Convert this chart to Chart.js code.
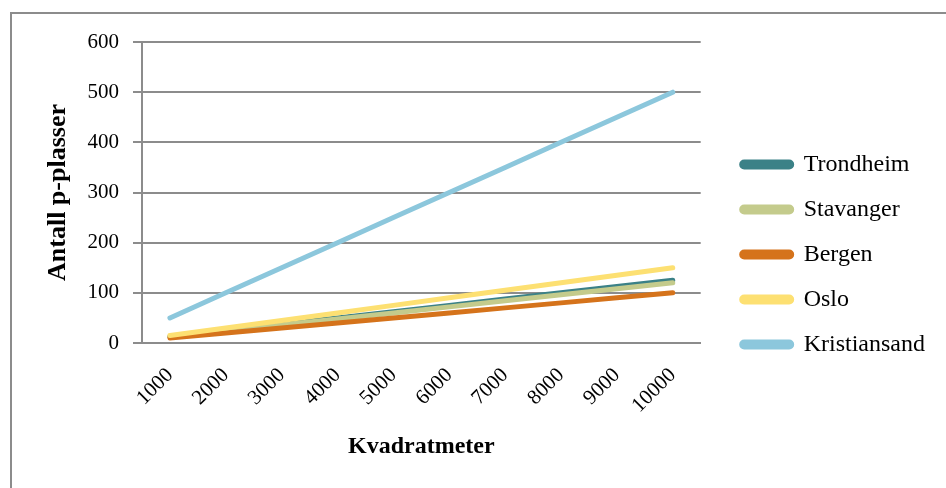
<!DOCTYPE html>
<html>
<head>
<meta charset="utf-8">
<script src="https://cdn.jsdelivr.net/npm/chart.js@4/dist/chart.umd.min.js"></script>
<style>
  html, body { margin: 0; padding: 0; background: #fff; }
  #wrap { position: relative; width: 946px; height: 488px; }
  #frame { position: absolute; left: 10px; top: 12px; width: 940px; height: 480px;
           border-left: 2px solid #8c8c8c; border-top: 2px solid #8c8c8c; }
  #chart { position: absolute; left: 0; top: 0; }
</style>
</head>
<body>
<div id="wrap">
  <div id="frame"></div>
  <canvas id="chart" width="946" height="488"></canvas>
</div>
<script>
// kvadratmeter
var areas = ['1000', '2000', '3000', '4000', '5000', '6000', '7000', '8000', '9000', '10000'];

// antall p-plasser per by
var trondheim = [12.5, 25, 37.5, 50, 62.5, 75, 87.5, 100, 112.5, 125];
var stavanger = [12, 24, 36, 48, 60, 72, 84, 96, 108, 120];
var bergen = [10, 20, 30, 40, 50, 60, 70, 80, 90, 100];
var oslo = [15, 30, 45, 60, 75, 90, 105, 120, 135, 150];
var kristiansand = [50, 100, 150, 200, 250, 300, 350, 400, 450, 500];

var cities = ['Trondheim', 'Stavanger', 'Bergen', 'Oslo', 'Kristiansand'];
var series = [trondheim, stavanger, bergen, oslo, kristiansand];
var colors = ['#3b8187', '#c4cb8c', '#d5731b', '#fde072', '#8cc7dc'];

var serif = '"Liberation Serif", "DejaVu Serif", serif';
var gridColor = '#8c8c8c';

var datasets = cities.map(function (name, i) {
  return {
    label: name,
    data: series[i],
    borderColor: colors[i],
    backgroundColor: colors[i],
    borderWidth: 5,
    borderCapStyle: 'round',
    pointRadius: 0,
    pointHoverRadius: 0,
    tension: 0,
    fill: false,
    order: cities.length - i,   // last city drawn on top
  };
});

// push the legend a bit to the right, away from the plot
var legendGap = {
  id: 'legendGap',
  afterLayout: function (chart) {
    chart.legend.left += 20;
    chart.legend.right += 20;
  },
};

new Chart('chart', {
  type: 'line',
  data: { labels: areas, datasets: datasets },
  plugins: [legendGap],
  options: {
    responsive: false,
    animation: false,
    layout: { padding: { left: 10, top: 42, right: 31, bottom: 21 } },
    plugins: {
      tooltip: { enabled: false },
      legend: {
        position: 'right',
        align: 'center',
        labels: {
          sort: function (a, b) { return a.datasetIndex - b.datasetIndex; },
          boxWidth: 50,
          boxHeight: 5,
          useBorderRadius: true,
          borderRadius: 2.5,
          padding: 21,
          color: '#000',
          font: { family: serif, size: 24 },
        },
      },
    },
    scales: {
      x: {
        offset: true,
        afterFit: function (s) { s.height = 124; },
        grid: { display: false, drawTicks: false },
        border: { display: true, color: gridColor, width: 2 },
        ticks: {
          minRotation: 45,
          maxRotation: 45,
          padding: 20,
          color: '#000',
          font: { family: serif, size: 21 },
        },
        title: {
          display: true,
          text: 'Kvadratmeter',
          color: '#000',
          font: { family: serif, size: 24, weight: 'bold' },
          padding: { top: 0, bottom: 6 },
        },
      },
      y: {
        min: 0,
        max: 600,
        afterFit: function (s) { s.width = 132; },
        ticks: {
          stepSize: 100,
          padding: 14,
          color: '#000',
          font: { family: serif, size: 21 },
        },
        grid: { color: gridColor, lineWidth: 2, tickLength: 9 },
        border: { display: true, color: gridColor, width: 2 },
        title: {
          display: true,
          text: 'Antall p-plasser',
          color: '#000',
          font: { family: serif, size: 26, weight: 'bold' },
          padding: { top: 33, bottom: 0 },
        },
      },
    },
  },
});
</script>
</body>
</html>
